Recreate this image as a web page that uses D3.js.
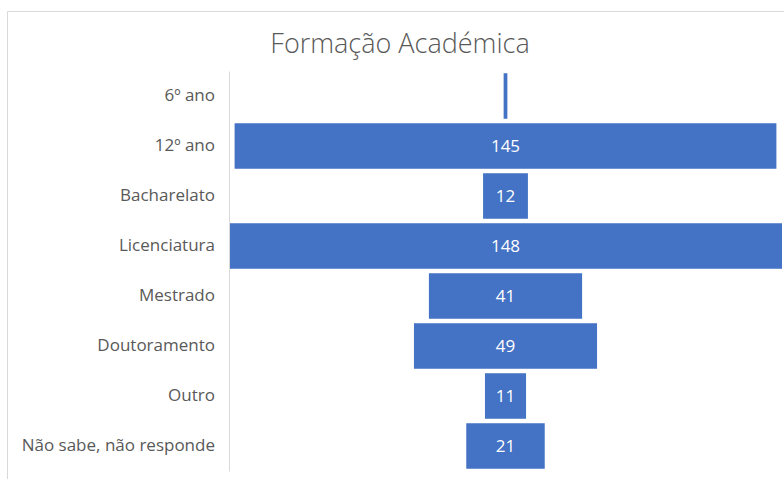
<!DOCTYPE html>
<html>
<head>
<meta charset="utf-8">
<script src="https://cdn.jsdelivr.net/npm/d3@7"></script>
<style>
  body { margin: 0; background: #fff; }
  text { font-family: "Open Sans", "Noto Sans", sans-serif; }
</style>
</head>
<body>
<div id="wrapper"></div>
<script>
// data
const categories = ['6º ano', '12º ano', 'Bacharelato', 'Licenciatura', 'Mestrado', 'Doutoramento', 'Outro', 'Não sabe, não responde'];
const values = [1, 145, 12, 148, 41, 49, 11, 21];
const chartTitle = 'Formação Académica';

const dimensions = {
  width: 784,
  height: 479,
  margin: { top: 71, right: 2, bottom: 8, left: 229 }
};
dimensions.boundW = dimensions.width - dimensions.margin.left - dimensions.margin.right;
dimensions.boundH = dimensions.height - dimensions.margin.top - dimensions.margin.bottom;

const svg = d3.select('#wrapper').append('svg')
  .attr('width', dimensions.width)
  .attr('height', dimensions.height);

// chart frame (only top + left visible in the crop)
svg.append('path')
  .attr('d', 'M7.5,479 L7.5,11.5 L784,11.5')
  .attr('fill', 'none')
  .attr('stroke', '#d9d9d9');

svg.append('text')
  .attr('x', 400)
  .attr('y', 53)
  .attr('text-anchor', 'middle')
  .attr('fill', '#595959')
  .style('font-size', '27px')
  .style('font-weight', 300)
  .text(chartTitle);

const bounds = svg.append('g')
  .attr('transform', `translate(${dimensions.margin.left},${dimensions.margin.top})`);

const yScale = d3.scaleBand()
  .domain(categories)
  .range([0, dimensions.boundH])
  .paddingInner(0.09)
  .paddingOuter(0.045);

const xScale = d3.scaleLinear()
  .domain([0, d3.max(values)])
  .range([0, dimensions.boundW]);

const cx = dimensions.boundW / 2;
const data = categories.map((c, i) => ({ cat: c, val: values[i] }));

bounds.selectAll('rect.bar')
  .data(data)
  .join('rect')
  .attr('class', 'bar')
  .attr('x', d => cx - xScale(d.val) / 2)
  .attr('y', d => yScale(d.cat))
  .attr('width', d => xScale(d.val))
  .attr('height', yScale.bandwidth())
  .attr('fill', '#4472c4');

// labels: white text, the one on the hairline bar is lost on the white background
bounds.selectAll('text.val')
  .data(data.filter(d => xScale(d.val) > 20))
  .join('text')
  .attr('class', 'val')
  .attr('x', cx)
  .attr('y', d => yScale(d.cat) + yScale.bandwidth() / 2)
  .attr('dy', '0.35em')
  .attr('text-anchor', 'middle')
  .attr('fill', '#fff')
  .style('font-size', '17px')
  .text(d => d.val);

// category axis
const yAxis = bounds.append('g')
  .call(d3.axisLeft(yScale).tickSize(0).tickPadding(14));
yAxis.select('.domain').attr('stroke', '#d9d9d9');
yAxis.selectAll('text')
  .attr('fill', '#595959')
  .style('font-size', '17px');
</script>
</body>
</html>
